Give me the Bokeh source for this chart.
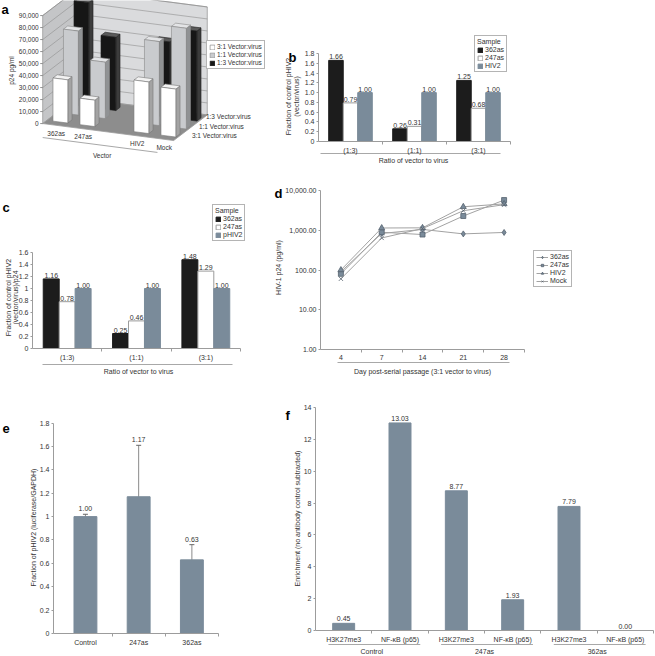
import math
from bokeh.plotting import figure
from bokeh.models import (Range1d, Label, LabelSet, ColumnDataSource, Legend, LegendItem,
                          FixedTicker, Whisker, TeeHead)
from bokeh.layouts import row, column
from bokeh.embed import file_html
from bokeh.resources import INLINE
from bokeh.core.properties import value

# ---------------- data ----------------
# panel a (3-D column chart, p24 pg/ml)
a_vectors = ["362as", "247as", "HIV2", "Mock"]
a_series = ["3:1 Vector:virus", "1:1 Vector:virus", "1:3 Vector:virus"]
a_r31 = [36000, 22000, 43000, 40000]
a_r11 = [70000, 47000, 70000, 84000]
a_r13 = [87000, 61000, 63000, 75000]
a_ticks = [0, 10000, 20000, 30000, 40000, 50000, 60000, 70000, 80000, 90000]

# panel b
b_groups = ["(1:3)", "(1:1)", "(3:1)"]
b_362as = [1.66, 0.26, 1.25]
b_247as = [0.79, 0.31, 0.68]
b_hiv2 = [1.00, 1.00, 1.00]
b_yticks = [0, 0.2, 0.4, 0.6, 0.8, 1.0, 1.2, 1.4, 1.6, 1.8]
b_ylabels = ["0", "0.2", "0.4", "0.6", "0.8", "1.0", "1.2", "1.4", "1.6", "1.8"]

# panel c
c_groups = ["(1:3)", "(1:1)", "(3:1)"]
c_362as = [1.16, 0.25, 1.48]
c_247as = [0.78, 0.46, 1.29]
c_phiv2 = [1.00, 1.00, 1.00]
c_yticks = [0, 0.2, 0.4, 0.6, 0.8, 1.0, 1.2, 1.4, 1.6]
c_ylabels = ["0", "0.2", "0.4", "0.6", "0.8", "1", "1.2", "1.4", "1.6"]

# panel d
d_days = ["4", "7", "14", "21", "28"]
d_362as = [90, 830, 1050, 810, 880]
d_247as = [80, 890, 780, 2280, 5750]
d_hiv2 = [100, 1140, 1150, 3900, 4600]
d_mock = [60, 640, 1100, 3100, 4400]
d_yticks = [1, 10, 100, 1000, 10000]

# panel e
e_samples = ["Control", "247as", "362as"]
e_values = [1.00, 1.17, 0.63]
e_errors = [0.02, 0.44, 0.13]
e_yticks = [0, 0.2, 0.4, 0.6, 0.8, 1.0, 1.2, 1.4, 1.6, 1.8]
e_ylabels = ["0", "0.2", "0.4", "0.6", "0.8", "1", "1.2", "1.4", "1.6", "1.8"]

# panel f
f_groups = ["Control", "247as", "362as"]
f_targets = ["H3K27me3", "NF-\u03baB (p65)"]
f_values = [0.45, 13.03, 8.77, 1.93, 7.79, 0.00]
f_yticks = [0, 2, 4, 6, 8, 10, 12, 14]

# ---------------- style ----------------
FONT = "Liberation Sans"
SLATE = "#7a8b9a"
BLACK = "#1c1c1c"
AXIS = "#9c9c9c"
TXT = "#333333"


def panel(L, T, R, B, fl, ft, fr, fb, xr, yr, ylog=False, axes=True):
    """Figure covering page box (L,T,R,B); the axes box (fl,ft,fr,fb) shows ranges xr, yr."""
    W, H = R - L, B - T
    ux = (xr[1] - xr[0]) / (fr - fl)
    x0 = xr[0] - (fl - L) * ux
    x1 = xr[1] + (R - fr) * ux
    ly0, ly1 = (math.log10(yr[0]), math.log10(yr[1])) if ylog else yr
    uy = (ly1 - ly0) / (fb - ft)
    y0 = ly0 - (B - fb) * uy
    y1 = ly1 + (ft - T) * uy
    if ylog:
        yrng = Range1d(10 ** y0, 10 ** y1)
    else:
        yrng = Range1d(y0, y1)
    kw = dict(width=W, height=H, min_border=0, x_range=Range1d(x0, x1), y_range=yrng,
              output_backend="svg", toolbar_location=None)
    if ylog:
        kw["y_axis_type"] = "log"
    if not axes:
        kw["x_axis_location"] = None
        kw["y_axis_location"] = None
    p = figure(**kw)
    p.grid.visible = False
    p.outline_line_color = None
    p.background_fill_color = "white"
    p.border_fill_color = "white"
    if axes:
        p.xaxis.fixed_location = yr[0]
        p.yaxis.fixed_location = xr[0]
        p.xaxis.bounds = tuple(xr)
        p.yaxis.bounds = tuple(yr)
        for ax in p.axis:
            ax.axis_line_color = AXIS
            ax.major_tick_line_color = AXIS
            ax.minor_tick_line_color = AXIS
            ax.major_tick_out = 2
            ax.major_tick_in = 0
            ax.minor_tick_out = 3
            ax.minor_tick_in = 0
            ax.major_label_text_font = FONT
            ax.major_label_text_font_size = "7px"
            ax.major_label_text_color = TXT
            ax.major_label_standoff = 2

    def X(px):
        return x0 + (px - L) * ux

    def Y(py):
        v = y0 + (B - py) * uy
        return 10 ** v if ylog else v
    return p, X, Y


def label(p, x, y, s, size="7px", align="center", baseline="middle", angle=0.0,
          bold=False, color=TXT):
    p.add_layout(Label(x=x, y=y, text=s, text_font=FONT, text_font_size=size,
                       text_align=align, text_baseline=baseline, angle=angle,
                       text_font_style="bold" if bold else "normal", text_color=color))


def value_labels(p, xs, ys, texts, yoff=1):
    src = ColumnDataSource(dict(x=xs, y=ys, t=texts))
    p.add_layout(LabelSet(x="x", y="y", text="t", source=src, text_font=value(FONT),
                          text_font_size=value("7px"), text_align="center",
                          text_baseline="bottom", y_offset=yoff, text_color=TXT))


def make_legend(items, loc, title=None, gw=6, size="7px"):
    lg = Legend(items=items, location=loc, margin=0, padding=2, spacing=1,
                glyph_width=gw, glyph_height=6, label_height=7, label_width=10,
                label_standoff=2, label_text_font=FONT, label_text_font_size=size,
                label_text_color=TXT, border_line_color="#6a6a6a", border_line_width=1,
                background_fill_color="white", background_fill_alpha=1)
    if title:
        lg.title = title
        lg.title_text_font = FONT
        lg.title_text_font_size = size
        lg.title_text_font_style = "normal"
        lg.title_text_color = TXT
        lg.title_standoff = 1
    return lg


def cat_axis(p, centers, names):
    p.xaxis.ticker = FixedTicker(ticks=centers, minor_ticks=[c + 0.5 for c in centers])
    p.xaxis.major_label_overrides = {c: n for c, n in zip(centers, names)}
    p.xaxis.major_tick_line_color = None


def underline(p, x0, x1, y):
    p.segment(x0, y, x1, y, line_color="#a8a8a8", line_width=1)


# ================= panel a =================
pa, aX, aY = panel(0, 0, 280, 180, 0, 0, 280, 180, (0, 280), (180, 0), axes=False)
AX0, AXI, AXJ = 62.0, 27.0, 10.5
AY0, AYI, AYJ, AZ = 120.0, 3.5, -8.0, 1.2 / 1000
a_pos = [0, 1, 3, 4]          # category slots along the front edge
I0, I1, J0, J1 = -0.5, 4.35, -0.6, 2.6
ZMAX = a_ticks[-1]
AFS = "6.5px"


def proj(i, j, z):
    return AX0 + AXI * i + AXJ * j, AY0 + AYI * i + AYJ * j - AZ * z


def poly(pts):
    q = [proj(*t) for t in pts]
    return [u for u, _ in q], [v for _, v in q]


walls = [
    ([(I0, J0, 0), (I0, J1, 0), (I0, J1, ZMAX), (I0, J0, ZMAX)], "#c4c5c7"),
    ([(I0, J1, 0), (I1, J1, 0), (I1, J1, ZMAX), (I0, J1, ZMAX)], "#dadbdd"),
    ([(I0, J0, 0), (I1, J0, 0), (I1, J1, 0), (I0, J1, 0)], "#8d8d8d"),
]
wx, wy, wc = [], [], []
for pts, c in walls:
    xx, yy = poly(pts)
    wx.append(xx); wy.append(yy); wc.append(c)
pa.patches(wx, wy, fill_color=wc, line_color="#9a9a9a", line_width=0.8)

gxs, gys = [], []
for v in a_ticks[1:]:
    xx, yy = poly([(I0, J0, v), (I0, J1, v), (I1, J1, v)])
    gxs.append(xx); gys.append(yy)
pa.multi_line(gxs, gys, line_color="#8f8f8f", line_width=0.6)

a_rows = [(2, a_r13, ("#161616", "#3c3c3c", "#5a5a5a", "#222222")),
          (1, a_r11, ("#c9cbce", "#909294", "#e3e4e6", "#8a8a8a")),
          (0, a_r31, ("#ffffff", "#a3a3a3", "#f2f2f2", "#777777"))]
BW, BD = 0.55, 0.4
front_r = {}
for j, vals, (cf, cs_, ct, cl) in a_rows:
    fx, fy, sx, sy, tx, ty = [], [], [], [], [], []
    for k, v in enumerate(vals):
        i0, i1 = a_pos[k] - BW / 2, a_pos[k] + BW / 2
        j0, j1 = j - BD / 2, j + BD / 2
        xx, yy = poly([(i0, j0, 0), (i1, j0, 0), (i1, j0, v), (i0, j0, v)]); fx.append(xx); fy.append(yy)
        xx, yy = poly([(i1, j0, 0), (i1, j1, 0), (i1, j1, v), (i1, j0, v)]); sx.append(xx); sy.append(yy)
        xx, yy = poly([(i0, j0, v), (i1, j0, v), (i1, j1, v), (i0, j1, v)]); tx.append(xx); ty.append(yy)
    pa.patches(sx, sy, fill_color=cs_, line_color=cl, line_width=0.6)
    pa.patches(tx, ty, fill_color=ct, line_color=cl, line_width=0.6)
    front_r[j] = pa.patches(fx, fy, fill_color=cf, line_color=cl, line_width=0.6)

for v in a_ticks:
    x0, y0 = proj(I0, J0, v)
    label(pa, x0 - 4, y0, f"{v:,}", size=AFS, align="right")
    pa.segment(x0 - 2.5, y0, x0, y0, line_color="#777777", line_width=0.8)
label(pa, 11, 70, "p24 pg/ml", size=AFS, angle=math.pi / 2)
for k, name in enumerate(a_vectors):
    x0, y0 = proj(a_pos[k], J0, 0)
    label(pa, x0, y0 + 8, name, size=AFS)
ux0, uy0 = proj(I0, J0, 0)
ux1, uy1 = proj(3.75, J0, 0)
pa.segment(ux0, uy0 + 14, ux1, uy1 + 14, line_color="#a8a8a8", line_width=1)
vx, vy = proj(1.7, J0, 0)
label(pa, vx, vy + 24, "Vector", size=AFS)
for j, name in enumerate(a_series):
    x0, y0 = proj(I1, j, 0)
    label(pa, x0 + 12 - 3.5 * j, y0 - 1.5 * j, name, size=AFS, align="left")
label(pa, 1, 9, "a", size="13px", align="left", baseline="alphabetic", bold=True, color="black")
pa.add_layout(make_legend([LegendItem(label=a_series[j], renderers=[front_r[j]]) for j in (0, 1, 2)],
                          (206, 180 - 69), size=AFS))

# ================= panel b =================
pb, bX, bY = panel(280, 0, 655, 180, 318, 53, 510, 141, (0.5, 3.5), (0, 1.8))
gx = list(range(1, len(b_groups) + 1))
bw = 0.227
rb1 = pb.vbar(x=[g - bw for g in gx], top=b_362as, width=bw, fill_color=BLACK, line_color=BLACK)
rb2 = pb.vbar(x=gx, top=b_247as, width=bw, fill_color="white", line_color="#9a9a9a")
rb3 = pb.vbar(x=[g + bw for g in gx], top=b_hiv2, width=bw, fill_color=SLATE, line_color=SLATE)
for off, vals in ((-bw, b_362as), (0, b_247as), (bw, b_hiv2)):
    value_labels(pb, [g + off for g in gx], vals, [f"{v:.2f}" for v in vals])
cat_axis(pb, gx, b_groups)
pb.yaxis.ticker = FixedTicker(ticks=b_yticks)
pb.yaxis.major_label_overrides = dict(zip(b_yticks, b_ylabels))
label(pb, bX(288), bY(57), "b", size="13px", align="left", baseline="alphabetic", bold=True, color="black")
label(pb, bX(288), bY(96), "Fraction of control pHIV2", angle=math.pi / 2)
label(pb, bX(296), bY(96), "(vector/virus)", angle=math.pi / 2)
underline(pb, bX(320), bX(500), bY(153))
label(pb, bX(413), bY(159.5), "Ratio of vector to virus")
pb.add_layout(make_legend([LegendItem(label="362as", renderers=[rb1]),
                           LegendItem(label="247as", renderers=[rb2]),
                           LegendItem(label="HIV2", renderers=[rb3])],
                          (474 - 280, 180 - 72), title="Sample"))

# ================= panel c =================
pc, cX, cY = panel(0, 180, 270, 400, 32, 252, 240, 348, (0.5, 3.5), (0, 1.6))
gx = list(range(1, len(c_groups) + 1))
bw = 0.23
rc1 = pc.vbar(x=[g - bw for g in gx], top=c_362as, width=bw, fill_color=BLACK, line_color=BLACK)
rc2 = pc.vbar(x=gx, top=c_247as, width=bw, fill_color="white", line_color="#9a9a9a")
rc3 = pc.vbar(x=[g + bw for g in gx], top=c_phiv2, width=bw, fill_color=SLATE, line_color=SLATE)
for off, vals in ((-bw, c_362as), (0, c_247as), (bw, c_phiv2)):
    value_labels(pc, [g + off for g in gx], vals, [f"{v:.2f}" for v in vals])
cat_axis(pc, gx, c_groups)
pc.yaxis.ticker = FixedTicker(ticks=c_yticks)
pc.yaxis.major_label_overrides = dict(zip(c_yticks, c_ylabels))
label(pc, cX(2), cY(207), "c", size="13px", align="left", baseline="alphabetic", bold=True, color="black")
label(pc, cX(7.5), cY(297), "Fraction of control pHIV2", angle=math.pi / 2)
label(pc, cX(15), cY(297), "(vector/virus)/p24", angle=math.pi / 2)
underline(pc, cX(42), cX(232), cY(364))
label(pc, cX(138), cY(371), "Ratio of vector to virus")
pc.add_layout(make_legend([LegendItem(label="362as", renderers=[rc1]),
                           LegendItem(label="247as", renderers=[rc2]),
                           LegendItem(label="pHIV2", renderers=[rc3])],
                          (212, 400 - 241), title="Sample"))

# ================= panel d =================
pd_, dX, dY = panel(270, 180, 655, 400, 320, 190, 524, 349, (0.5, 5.5), (1, 10000), ylog=True)
dx = list(range(1, len(d_days) + 1))
d_items = []
for vals, mk, name in ((d_362as, "diamond", "362as"), (d_247as, "square", "247as"),
                       (d_hiv2, "triangle", "HIV2"), (d_mock, "x", "Mock")):
    ln = pd_.line(dx, vals, line_color="#a2a2a2", line_width=1)
    sc = pd_.scatter(dx, vals, marker=mk, size=6 if mk != "square" else 5,
                     fill_color=SLATE, line_color="#56626e", line_width=0.8)
    d_items.append(LegendItem(label=name, renderers=[ln, sc]))
cat_axis(pd_, dx, d_days)
pd_.yaxis.ticker = FixedTicker(ticks=d_yticks)
pd_.yaxis.major_label_overrides = {v: f"{v:,.2f}" for v in d_yticks}
label(pd_, dX(274), dY(193), "d", size="13px", align="left", baseline="alphabetic", bold=True, color="black")
label(pd_, dX(278), dY(267), "HIV-1 p24 (pg/ml)", angle=math.pi / 2)
underline(pd_, dX(337), dX(509), dY(362))
label(pd_, dX(422), dY(371), "Day post-serial passage (3:1 vector to virus)")
pd_.add_layout(make_legend(d_items, (533 - 270, 400 - 287), gw=12))

# ================= panel e =================
pe, eX, eY = panel(0, 400, 260, 656, 53, 422.6, 218, 633, (-0.6, 2.5), (0, 1.8))
ex = list(range(len(e_samples)))
pe.vbar(x=ex, top=e_values, width=0.43, fill_color=SLATE, line_color=SLATE)
e_up = [v + e for v, e in zip(e_values, e_errors)]
e_lo = [v - e for v, e in zip(e_values, e_errors)]
esrc = ColumnDataSource(dict(x=ex, upper=e_up, lower=e_lo))
pe.add_layout(Whisker(base="x", upper="upper", lower="lower", source=esrc,
                      line_color="#8a8a8a", line_width=1,
                      upper_head=TeeHead(size=5, line_color="#666666", line_width=1),
                      lower_head=TeeHead(size=5, line_color="#666666", line_width=1)))
value_labels(pe, ex, e_up, [f"{v:.2f}" for v in e_values], yoff=3)
cat_axis(pe, ex, e_samples)
pe.yaxis.ticker = FixedTicker(ticks=e_yticks)
pe.yaxis.major_label_overrides = dict(zip(e_yticks, e_ylabels))
label(pe, eX(2), eY(428), "e", size="13px", align="left", baseline="alphabetic", bold=True, color="black")
label(pe, eX(33), eY(527), "Fraction of pHIV2 (luciferase/GAPDH)", angle=math.pi / 2)

# ================= panel f =================
pf, fX, fY = panel(260, 400, 655, 656, 315, 407, 653, 630, (0.5, 6.5), (0, 14))
fx = list(range(1, len(f_values) + 1))
pf.vbar(x=fx, top=f_values, width=0.39, fill_color=SLATE, line_color=SLATE)
value_labels(pf, fx, f_values, [f"{v:.2f}" for v in f_values], yoff=2)
f_names = [f_targets[k % 2] for k in range(len(f_values))]
cat_axis(pf, fx, f_names)
pf.yaxis.ticker = FixedTicker(ticks=f_yticks)
for gi, g in enumerate(f_groups):
    x1, x2 = 2 * gi + 1, 2 * gi + 2
    underline(pf, x1 - 0.27, x2 + 0.36, fY(644))
    label(pf, (x1 + x2) / 2, fY(651), g)
label(pf, fX(285), fY(415), "f", size="13px", align="left", baseline="alphabetic", bold=True, color="black")
label(pf, fX(297), fY(518), "Enrichment (no antibody control subtracted)", angle=math.pi / 2)

layout = column(row(pa, pb), row(pc, pd_), row(pe, pf))
open("out.html", "w").write(file_html(layout, INLINE))
